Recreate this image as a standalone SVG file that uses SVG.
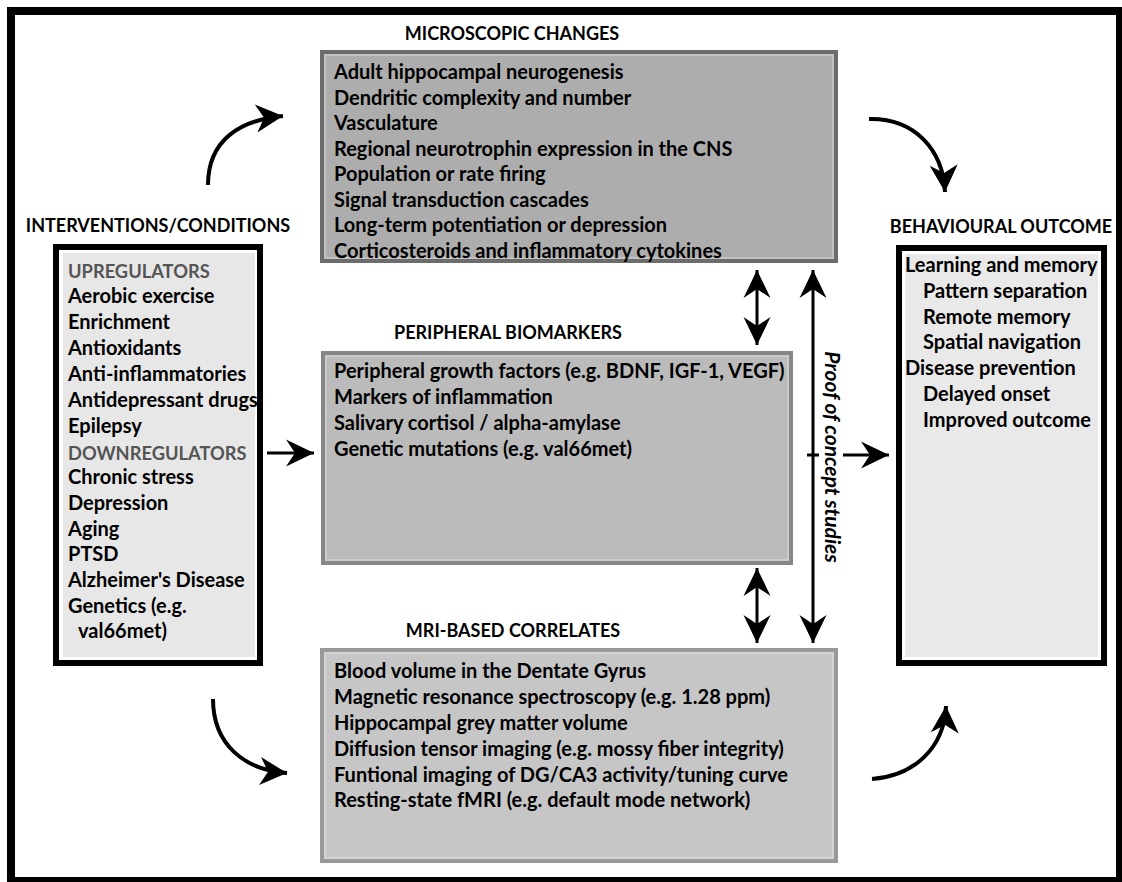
<svg xmlns="http://www.w3.org/2000/svg" width="1122" height="882" viewBox="0 0 1122 882">
<style>
.t{font-family:Lato,'Open Sans','Liberation Sans',sans-serif;font-weight:700;font-size:20px;fill:#000}
.hd{font-family:Lato,'Open Sans','Liberation Sans',sans-serif;font-weight:700;font-size:18px;fill:#000;text-anchor:middle}
.g{fill:#555;font-size:18.3px}
.i{font-style:italic;font-size:21px;text-anchor:middle}
.ln{fill:none;stroke:#000;stroke-width:3}
.cv{fill:none;stroke:#000;stroke-width:4}
</style>
<defs>
<marker id="head" viewBox="-30 -15 32 30" markerWidth="32" markerHeight="30" refX="0" refY="0" orient="auto-start-reverse" markerUnits="userSpaceOnUse" overflow="visible"><path d="M0,0 L-28,-13.5 L-19,0 L-28,13.5 Z" fill="#000"/></marker>
<marker id="chead" viewBox="-30 -15 32 30" markerWidth="32" markerHeight="30" refX="0" refY="0" orient="auto" markerUnits="userSpaceOnUse" overflow="visible"><path d="M0,0 L-27,-14 L-19,0 L-27,14 Z" fill="#000"/></marker>
</defs>
<rect x="0" y="0" width="1122" height="882" fill="#fff"/>
<rect x="11" y="11" width="1109" height="870" fill="none" stroke="#000" stroke-width="8"/>

<g id="interventions">
<text class="hd" x="158" y="232">INTERVENTIONS/CONDITIONS</text>
<rect x="56" y="247" width="204" height="416" fill="#fff" stroke="#000" stroke-width="6"/>
<rect x="63" y="253" width="192" height="404" fill="#e7e7e7"/>
<text class="t g" x="68" y="278">UPREGULATORS</text>
<text class="t" x="68" y="303">Aerobic exercise</text>
<text class="t" x="68" y="329">Enrichment</text>
<text class="t" x="68" y="355">Antioxidants</text>
<text class="t" x="68" y="381">Anti-inflammatories</text>
<text class="t" x="68" y="407">Antidepressant drugs</text>
<text class="t" x="68" y="433">Epilepsy</text>
<text class="t g" x="68" y="460">DOWNREGULATORS</text>
<text class="t" x="68" y="484">Chronic stress</text>
<text class="t" x="68" y="510">Depression</text>
<text class="t" x="68" y="536">Aging</text>
<text class="t" x="68" y="561">PTSD</text>
<text class="t" x="68" y="587">Alzheimer's Disease</text>
<text class="t" x="68" y="613">Genetics (e.g.</text>
<text class="t" x="78" y="638">val66met)</text>
</g>

<g id="microscopic">
<text class="hd" x="512" y="40">MICROSCOPIC CHANGES</text>
<rect x="322" y="52" width="514" height="209" fill="#adadad" stroke="#6c6c6c" stroke-width="4"/>
<rect x="325" y="55" width="508" height="203" fill="none" stroke="#c9c9c9" stroke-width="1.5"/>
<text class="t" x="334" y="79">Adult hippocampal neurogenesis</text>
<text class="t" x="334" y="104.5">Dendritic complexity and number</text>
<text class="t" x="334" y="130">Vasculature</text>
<text class="t" x="334" y="155.5">Regional neurotrophin expression in the CNS</text>
<text class="t" x="334" y="181">Population or rate firing</text>
<text class="t" x="334" y="206.5">Signal transduction cascades</text>
<text class="t" x="334" y="232">Long-term potentiation or depression</text>
<text class="t" x="334" y="257.5">Corticosteroids and inflammatory cytokines</text>
</g>

<g id="peripheral">
<text class="hd" x="508" y="339">PERIPHERAL BIOMARKERS</text>
<rect x="323" y="353" width="468" height="210" fill="#bbbbbb" stroke="#878787" stroke-width="4"/>
<rect x="326" y="356" width="462" height="204" fill="none" stroke="#d2d2d2" stroke-width="1.5"/>
<text class="t" x="334" y="378">Peripheral growth factors (e.g. BDNF, IGF-1, VEGF)</text>
<text class="t" x="334" y="404">Markers of inflammation</text>
<text class="t" x="334" y="430">Salivary cortisol / alpha-amylase</text>
<text class="t" x="334" y="456">Genetic mutations (e.g. val66met)</text>
</g>

<g id="mri">
<text class="hd" x="513" y="637">MRI-BASED CORRELATES</text>
<rect x="322" y="650" width="514" height="211" fill="#c6c6c6" stroke="#999" stroke-width="4"/>
<rect x="325" y="653" width="508" height="205" fill="none" stroke="#d8d8d8" stroke-width="1.5"/>
<text class="t" x="334" y="678">Blood volume in the Dentate Gyrus</text>
<text class="t" x="334" y="704">Magnetic resonance spectroscopy (e.g. 1.28 ppm)</text>
<text class="t" x="334" y="730">Hippocampal grey matter volume</text>
<text class="t" x="334" y="756">Diffusion tensor imaging (e.g. mossy fiber integrity)</text>
<text class="t" x="334" y="782">Funtional imaging of DG/CA3 activity/tuning curve</text>
<text class="t" x="334" y="807">Resting-state fMRI (e.g. default mode network)</text>
</g>

<g id="behavioural">
<text class="hd" x="1001" y="233">BEHAVIOURAL OUTCOME</text>
<rect x="899" y="248" width="205" height="415" fill="#fff" stroke="#000" stroke-width="6"/>
<rect x="905" y="254" width="193" height="403" fill="#e9e9e9"/>
<text class="t" x="905" y="272">Learning and memory</text>
<text class="t" x="923" y="297.5">Pattern separation</text>
<text class="t" x="923" y="323.5">Remote memory</text>
<text class="t" x="923" y="349">Spatial navigation</text>
<text class="t" x="905" y="375">Disease prevention</text>
<text class="t" x="923" y="400.5">Delayed onset</text>
<text class="t" x="923" y="426.5">Improved outcome</text>
</g>

<g id="connectors">
<path class="cv" d="M208,185 C208,140 240,120 283,116" marker-end="url(#chead)"/>
<path class="cv" d="M869,119 C915,118 943,150 945,192" marker-end="url(#chead)"/>
<path class="cv" d="M213,699 C213,745 245,770 287,773" marker-end="url(#chead)"/>
<path class="cv" d="M872,779 C912,776 944,750 946,706" marker-end="url(#chead)"/>
<path class="ln" d="M267,453 L314,453" marker-end="url(#head)"/>
<path class="ln" d="M757,270 L757,345" marker-start="url(#head)" marker-end="url(#head)"/>
<path class="ln" d="M757,568 L757,643" marker-start="url(#head)" marker-end="url(#head)"/>
<path class="ln" d="M813,270 L813,643" marker-start="url(#head)" marker-end="url(#head)"/>
<path class="ln" d="M807,455 L819,455"/>
<path class="ln" d="M843,455 L889,455" marker-end="url(#head)"/>
<text class="t i" transform="translate(825,457) rotate(90)" x="0" y="0">Proof of concept studies</text>
</g>
</svg>
